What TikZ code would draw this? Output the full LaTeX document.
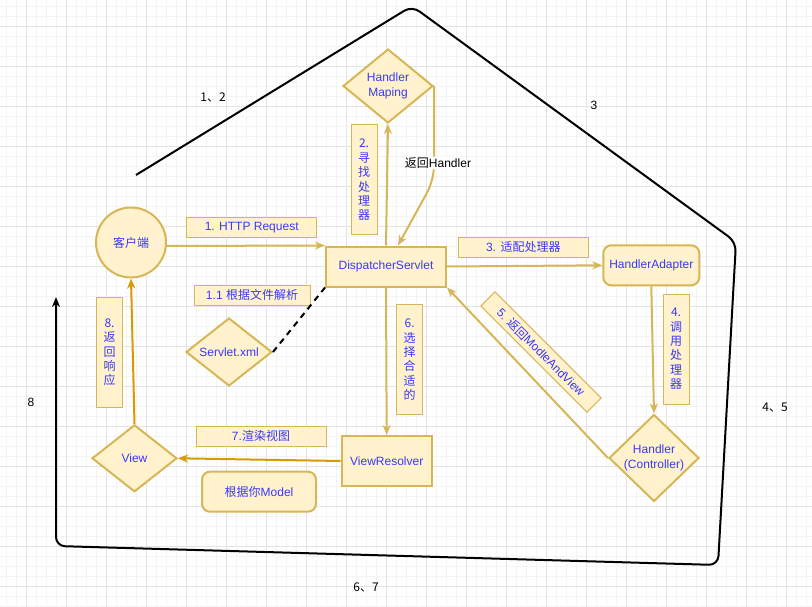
\documentclass[tikz,border=0pt]{standalone}
\usepackage{fontspec}
\setmainfont{Liberation Sans}
\newfontfamily\cjk{Noto Sans CJK SC}
\usetikzlibrary{shapes.geometric,arrows.meta}
\definecolor{boxfill}{HTML}{FFF2CC}
\definecolor{boxline}{HTML}{D6B656}
\definecolor{backline}{HTML}{D79B00}
\definecolor{labtext}{HTML}{3838FF}
\definecolor{gridmajor}{HTML}{E4E4E4}
\definecolor{gridminor}{HTML}{F4F4F4}
\tikzset{
  shapebox/.style={draw=boxline,fill=boxfill,line width=2pt,inner sep=0pt,text=labtext},
  dia/.style={shapebox,diamond},
  ntext/.style={text=labtext,align=center},
  lab/.style={draw=boxline,fill=boxfill,line width=1pt,inner sep=0pt,text=labtext,align=center},
  vlab/.style={lab,minimum width=26pt,minimum height=110pt,font=\cjk\fontsize{12}{14.4}\selectfont},
  flow/.style={draw=boxline,line width=2pt,-{Stealth[length=10pt,width=8pt,inset=3pt]}},
  backflow/.style={draw=backline,line width=2pt,-{Stealth[length=10pt,width=8pt,inset=3pt]}},
  stage/.style={text=black}
}
\begin{document}
\begin{tikzpicture}[x=1pt,y=-1pt,every node/.style={font=\fontsize{12}{14.4}\selectfont}]
\useasboundingbox (0,0) rectangle (812,607);
% background grid
\foreach \g in {0,...,80} \draw[gridminor,line width=0.8pt] ({6.67+10*\g},0) -- ({6.67+10*\g},607);
\foreach \g in {0,...,60} \draw[gridminor,line width=0.8pt] (0,{6.67+10*\g}) -- (812,{6.67+10*\g});
\foreach \g in {0,...,19} \draw[gridmajor,line width=0.8pt] ({26.67+40*\g},0) -- ({26.67+40*\g},607);
\foreach \g in {0,...,14} \draw[gridmajor,line width=0.8pt] (0,{26.67+40*\g}) -- (812,{26.67+40*\g});

% outer loop
\draw[black,line width=2pt,rounded corners=9pt,-{Stealth[length=10pt,width=8pt,inset=3pt]}]
  (136,175) -- (412,6) -- (736,242) -- (718,565) -- (56,546) -- (56,297);
\node[stage] (s12) at (213,97) {\cjk 1、2};
\node[stage] (s3) at (594,105) {3};
\node[stage] (s45) at (775,408) {\cjk 4、5};
\node[stage] (s67) at (366,587) {\cjk 6、7};
\node[stage] (s8) at (31,402) {8};

% shapes
\node[shapebox,circle,minimum size=70pt] (client) at (131,242.5) {\cjk 客户端};
\node[shapebox,minimum width=120pt,minimum height=40pt] (ds) at (386,266.5) {DispatcherServlet};
\node[dia,minimum width=90pt,minimum height=74pt,label={[ntext]center:Handler\\Maping}] (hm) at (388,86) {};
\node[shapebox,rounded corners=8pt,minimum width=96pt,minimum height=40pt] (ha) at (651.3,265.3) {HandlerAdapter};
\node[dia,minimum width=90pt,minimum height=87pt,label={[ntext]center:Handler\\(Controller)}] (hc) at (654,458) {};
\node[shapebox,minimum width=90pt,minimum height=50pt] (vr) at (386.7,461) {ViewResolver};
\node[dia,minimum width=85pt,minimum height=67pt,label={[ntext]center:View}] (view) at (134.5,458.3) {};
\node[dia,minimum width=86pt,minimum height=68pt,label={[ntext]center:Servlet.xml}] (xml) at (229,352) {};
\node[shapebox,rounded corners=8pt,minimum width=114pt,minimum height=40pt] (model) at (259,491.7) {{\cjk 根据你}Model};

% labels
\node[lab,minimum width=130pt,minimum height=20pt] (lab1) at (251.7,227.3) {1. HTTP Request};
\node[lab,minimum width=116pt,minimum height=20pt] (lab11) at (252,295.3) {1.1 {\cjk 根据文件解析}};
\node[vlab] (lab2) at (364,180) {2.\\寻\\找\\处\\理\\器};
\node[lab,minimum width=130pt,minimum height=20pt] (lab3) at (523.3,247.3) {3. {\cjk 适配处理器}};
\node[vlab] (lab4) at (676,349) {4.\\调\\用\\处\\理\\器};
\node[lab,minimum width=150pt,minimum height=20pt,rotate=-45] (lab5) at (541,352) {5. {\cjk 返回}ModleAndView};
\node[vlab] (lab6) at (409.6,359.7) {6.\\选\\择\\合\\适\\的};
\node[lab,minimum width=130pt,minimum height=20pt] (lab7) at (261,436.3) {7.{\cjk 渲染视图}};
\node[vlab] (lab8) at (109.5,352.3) {8.\\返\\回\\响\\应};

% connectors
\coordinate (hmbend) at (434,180);
\draw[flow] ([yshift=-3.5pt]client.east) -- (ds.north west);
\draw[flow] (ds.north) -- (hm.south);
\draw[flow,rounded corners=14pt] (hm.east) -- node[pos=0.82,fill=white,inner sep=1pt,xshift=4pt] (hlab) {{\cjk 返回}Handler} (hmbend) -- ([xshift=12pt]ds.north);
\draw[flow] (ds.east) -- (ha.west);
\draw[flow] (ha.south) -- (hc.north);
\draw[flow] (hc.west) -- (ds.south east);
\draw[flow] (ds.south) -- (vr.north);
\draw[backflow] (vr.west) -- (view.east);
\draw[backflow] (view.north) -- (client.south);
\draw[black,line width=2pt,dash pattern=on 6pt off 5pt] (xml.east) -- (ds.south west);
\end{tikzpicture}
\end{document}
